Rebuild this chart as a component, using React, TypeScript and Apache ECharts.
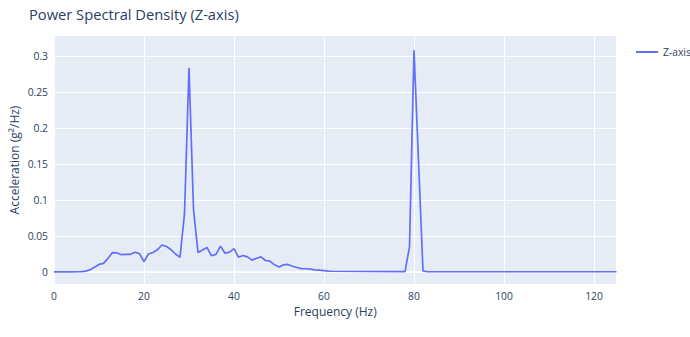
import React, { useEffect, useRef } from "react";
import * as echarts from "echarts";

const freqHz = [
  0, 1, 2, 3, 4, 5, 6, 7, 8, 9, 10, 11, 12, 13, 14, 15, 16, 17, 18, 19, 20,
  21, 22, 23, 24, 25, 26, 27, 28, 29, 30, 31, 32, 33, 34, 35, 36, 37, 38, 39,
  40, 41, 42, 43, 44, 45, 46, 47, 48, 49, 50, 51, 52, 53, 54, 55, 56, 57, 58,
  59, 60, 61, 62, 78, 79, 80, 82, 83, 125,
];
const psdZ = [
  0.0002, 0.0002, 0.0002, 0.0002, 0.0002, 0.0003, 0.0005, 0.0012, 0.003,
  0.0065, 0.0105, 0.012, 0.019, 0.027, 0.0265, 0.024, 0.0245, 0.0245, 0.0275,
  0.0255, 0.0145, 0.025, 0.027, 0.031, 0.0375, 0.0355, 0.031, 0.025, 0.0205,
  0.081, 0.284, 0.087, 0.027, 0.0305, 0.034, 0.0225, 0.0245, 0.036, 0.026,
  0.0275, 0.0325, 0.0205, 0.023, 0.021, 0.0165, 0.019, 0.021, 0.016, 0.015,
  0.01, 0.007, 0.01, 0.0105, 0.008, 0.0063, 0.0047, 0.0045, 0.004, 0.003,
  0.0025, 0.002, 0.0012, 0.001, 0.0005, 0.035, 0.308, 0.0015, 0.0003, 0.0003,
];
const yTicks = [0, 0.05, 0.1, 0.15, 0.2, 0.25, 0.3];

const FONT = '"Open Sans", verdana, arial, sans-serif';
const TXT = "#2a3f5f";

export default function App() {
  const ref = useRef<HTMLDivElement>(null);
  useEffect(() => {
    if (!ref.current) return;
    const chart = echarts.init(ref.current, undefined, { renderer: "svg" });
    chart.setOption({
      animation: false,
      backgroundColor: "#ffffff",
      textStyle: { fontFamily: FONT },
      title: {
        text: "Power Spectral Density (Z-axis)",
        left: 24,
        top: 1,
        textStyle: { fontFamily: FONT, fontSize: 14.7, fontWeight: "normal", color: TXT },
      },
      legend: {
        left: 631,
        top: 42,
        itemWidth: 22,
        itemHeight: 2,
        itemGap: 8,
        icon: "path://M0 0H22V2H0Z",
        textStyle: { fontFamily: FONT, fontSize: 10.3, color: TXT },
        data: ["Z-axis"],
      },
      grid: {
        left: 54,
        top: 36,
        right: 73.5,
        bottom: 53,
        containLabel: false,
        outerBoundsMode: "none",
        show: true,
        backgroundColor: "#E5ECF6",
        borderWidth: 0,
      },
      xAxis: {
        type: "value",
        min: 0,
        max: 125,
        interval: 20,
        name: "Frequency (Hz)",
        nameLocation: "middle",
        nameGap: 21,
        nameMoveOverlap: false,
        nameTextStyle: { fontFamily: FONT, fontSize: 12, color: TXT },
        axisLine: { show: false },
        axisTick: { show: false },
        axisLabel: { fontFamily: FONT, fontSize: 10.3, color: TXT, margin: 7, showMaxLabel: false },
        splitLine: { show: true, lineStyle: { color: "#ffffff", width: 1 } },
      },
      yAxis: {
        type: "value",
        min: -0.0167,
        max: 0.328,
        name: "Acceleration (g²/Hz)",
        nameLocation: "middle",
        nameGap: 34,
        nameMoveOverlap: false,
        nameTextStyle: { fontFamily: FONT, fontSize: 12, color: TXT },
        axisLine: { show: false },
        axisTick: { show: false, customValues: yTicks },
        axisLabel: {
          fontFamily: FONT,
          fontSize: 10.3,
          color: TXT,
          margin: 6,
          customValues: yTicks,
          formatter: (v: number) => String(Math.round(v * 1000) / 1000),
        },
        splitLine: { show: true, lineStyle: { color: "#ffffff", width: 1 } },
      },
      series: [
        {
          name: "Z-axis",
          type: "line",
          symbol: "none",
          data: freqHz.map((f, i) => [f, psdZ[i]]),
          lineStyle: { color: "#636efa", width: 1.7 },
          itemStyle: { color: "#636efa" },
          z: 3,
          markLine: {
            silent: true,
            symbol: "none",
            label: { show: false },
            lineStyle: { color: "#ffffff", width: 1.7, type: "solid" },
            data: [{ yAxis: 0 }],
            z: 1,
          },
        },
      ],
    });
    return () => chart.dispose();
  }, []);
  return (
    <div
      ref={ref}
      style={{ position: "absolute", left: 0, top: 0, width: 690, height: 337 }}
    />
  );
}
